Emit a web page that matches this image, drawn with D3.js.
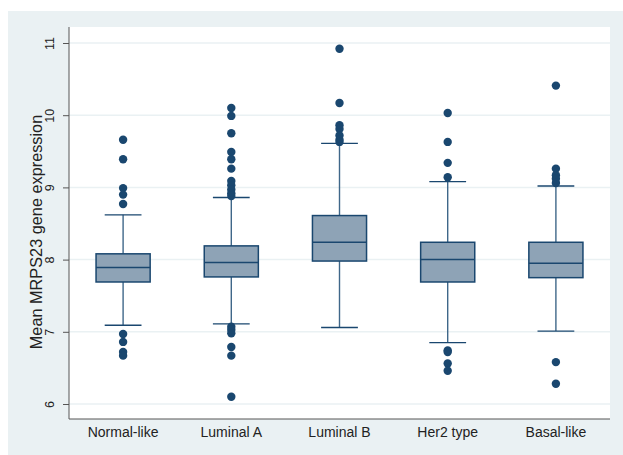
<!DOCTYPE html>
<html>
<head>
<meta charset="utf-8">
<script src="https://cdn.jsdelivr.net/npm/d3@7"></script>
<style>
  body { margin: 0; background: #fff; }
  text { font-family: "Liberation Sans", Arial, sans-serif; }
</style>
</head>
<body>
<div id="chart"></div>
<script>
var categories = ["Normal-like", "Luminal A", "Luminal B", "Her2 type", "Basal-like"];

// box stats: [lower whisker, Q1, median, Q3, upper whisker]
var boxStats = [
  [7.09, 7.69, 7.89, 8.08, 8.62],
  [7.11, 7.76, 7.96, 8.19, 8.86],
  [7.06, 7.98, 8.24, 8.61, 9.61],
  [6.85, 7.69, 8.00, 8.24, 9.08],
  [7.01, 7.75, 7.95, 8.24, 9.02]
];

var outliers = [
  [9.66, 9.39, 8.99, 8.90, 8.77, 6.97, 6.86, 6.72, 6.67],
  [10.10, 9.99, 9.75, 9.49, 9.39, 9.26, 9.09, 9.03, 8.97, 8.92, 8.88,
   7.07, 7.03, 6.98, 6.79, 6.67, 6.10],
  [10.92, 10.17, 9.86, 9.81, 9.72, 9.66, 9.63],
  [10.03, 9.63, 9.34, 9.14, 6.74, 6.72, 6.56, 6.46],
  [10.41, 9.26, 9.17, 9.12, 9.06, 6.58, 6.28]
];

var yTicks = [6, 7, 8, 9, 10, 11];

var W = 623, H = 455;
var plot = {left: 69, top: 27, right: 610, bottom: 419};

var svg = d3.select("#chart").append("svg")
    .attr("width", W)
    .attr("height", H);

// outer panel
svg.append("rect")
    .attr("x", 8).attr("y", 11)
    .attr("width", W - 8).attr("height", H - 11)
    .attr("fill", "#eaf1f3");

svg.append("rect")
    .attr("x", plot.left).attr("y", plot.top)
    .attr("width", plot.right - plot.left).attr("height", plot.bottom - plot.top)
    .attr("fill", "#fff");

var x = d3.scaleBand()
    .domain(categories)
    .range([plot.left, plot.right])
    .padding(0);

var y = d3.scaleLinear()
    .domain([6, 11])
    .range([404, 43]);

// gridlines
svg.append("g").selectAll("line")
    .data(yTicks)
    .enter().append("line")
    .attr("x1", plot.left).attr("x2", plot.right)
    .attr("y1", d => y(d)).attr("y2", d => y(d))
    .attr("stroke", "#eaf1f3")
    .attr("stroke-width", 1.5);

// y axis, labels turned like stata does
var yAxis = svg.append("g")
    .attr("transform", "translate(" + plot.left + ",0)")
    .call(d3.axisLeft(y).tickValues(yTicks).tickFormat(d3.format("d")).tickSize(6).tickSizeOuter(0));
yAxis.attr("font-size", null).attr("font-family", null);
yAxis.select(".domain").remove();
yAxis.selectAll(".tick line").attr("stroke", "#555");
yAxis.selectAll(".tick text")
    .attr("transform", "rotate(-90)")
    .attr("x", 0).attr("y", -15)
    .attr("dy", 0)
    .attr("fill", "#222")
    .attr("text-anchor", "middle")
    .style("font-size", "12.5px");

svg.append("line")
    .attr("x1", plot.left).attr("x2", plot.left)
    .attr("y1", plot.top).attr("y2", plot.bottom)
    .attr("stroke", "#555").attr("stroke-width", 1);

svg.append("line")
    .attr("x1", plot.left).attr("x2", plot.right)
    .attr("y1", plot.bottom).attr("y2", plot.bottom)
    .attr("stroke", "#555").attr("stroke-width", 1);

// x labels
svg.append("g").selectAll("text")
    .data(categories)
    .enter().append("text")
    .attr("x", d => x(d) + x.bandwidth() / 2)
    .attr("y", 437)
    .attr("text-anchor", "middle")
    .style("font-size", "14px")
    .attr("fill", "#222")
    .text(d => d);

// y title
svg.append("text")
    .attr("transform", "translate(42,232) rotate(-90)")
    .attr("text-anchor", "middle")
    .style("font-size", "16.3px")
    .attr("fill", "#222")
    .text("Mean MRPS23 gene expression");

var navy = "#1a476f";
var boxW = x.bandwidth() * 0.5;
var capW = x.bandwidth() * 0.34;

var boxes = svg.append("g").selectAll("g")
    .data(categories)
    .enter().append("g");

boxes.each(function(c, i) {
  var g = d3.select(this);
  var s = boxStats[i];
  var cx = x(c) + x.bandwidth() / 2;

  // whiskers
  g.append("line")
      .attr("x1", cx).attr("x2", cx)
      .attr("y1", y(s[0])).attr("y2", y(s[1]))
      .attr("stroke", "#3f6789").attr("stroke-width", 1.4);
  g.append("line")
      .attr("x1", cx).attr("x2", cx)
      .attr("y1", y(s[3])).attr("y2", y(s[4]))
      .attr("stroke", "#3f6789").attr("stroke-width", 1.4);
  g.selectAll(".cap")
      .data([s[0], s[4]])
      .enter().append("line")
      .attr("x1", cx - capW / 2).attr("x2", cx + capW / 2)
      .attr("y1", d => y(d)).attr("y2", d => y(d))
      .attr("stroke", navy).attr("stroke-width", 1.4);

  g.append("rect")
      .attr("x", cx - boxW / 2)
      .attr("y", y(s[3]))
      .attr("width", boxW)
      .attr("height", y(s[1]) - y(s[3]))
      .attr("fill", "#8ea3b6")
      .attr("stroke", navy)
      .attr("stroke-width", 1.5);

  g.append("line")
      .attr("x1", cx - boxW / 2).attr("x2", cx + boxW / 2)
      .attr("y1", y(s[2])).attr("y2", y(s[2]))
      .attr("stroke", navy).attr("stroke-width", 1.5);

  g.selectAll("circle")
      .data(outliers[i])
      .enter().append("circle")
      .attr("cx", cx)
      .attr("cy", d => y(d))
      .attr("r", 4.2)
      .attr("fill", navy);
});
</script>
</body>
</html>
